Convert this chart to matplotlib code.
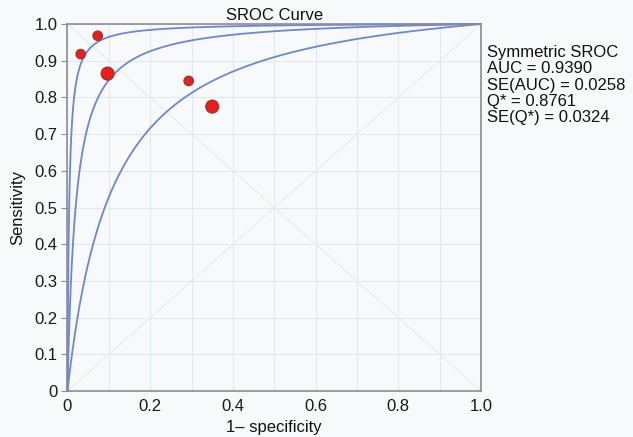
import numpy as np
import matplotlib
matplotlib.use("Agg")
import matplotlib.pyplot as plt

plt.rcParams['font.family'] = ['Liberation Sans', 'DejaVu Sans']

# Study points (1 - specificity, sensitivity), marker weight
study_fpr = [0.032, 0.073, 0.097, 0.293, 0.350]
study_tpr = [0.918, 0.968, 0.865, 0.845, 0.775]
study_weight = ['small', 'small', 'large', 'small', 'large']

# Symmetric SROC curves: diagnostic odds ratios (lower band, estimate, upper band)
curve_dor = [10.1, 50.0, 247.0]

stats_lines = ["Symmetric SROC", "AUC = 0.9390", "SE(AUC) = 0.0258",
               "Q* = 0.8761", "SE(Q*) = 0.0324"]

x_ticks = [0.0, 0.1, 0.2, 0.3, 0.4, 0.5, 0.6, 0.7, 0.8, 0.9, 1.0]
x_ticklabels = ["0", "", "0.2", "", "0.4", "", "0.6", "", "0.8", "", "1.0"]
y_ticks = [0.0, 0.1, 0.2, 0.3, 0.4, 0.5, 0.6, 0.7, 0.8, 0.9, 1.0]
y_ticklabels = ["0", "0.1", "0.2", "0.3", "0.4", "0.5", "0.6", "0.7", "0.8", "0.9", "1.0"]

bg = '#f8f9fb'
fig = plt.figure(figsize=(6.33, 4.37), dpi=100, facecolor=bg)
ax = fig.add_axes([0.1066, 0.105, 0.6534, 0.840], facecolor=bg)

ax.set_xlim(0, 1)
ax.set_ylim(0, 1)
ax.set_xticks(x_ticks)
ax.set_xticklabels(x_ticklabels)
ax.set_yticks(y_ticks)
ax.set_yticklabels(y_ticklabels)
ax.grid(True, color='#e0e8f0', linewidth=0.8)
ax.set_axisbelow(True)
for s in ax.spines.values():
    s.set_color('#8a8d92')
    s.set_linewidth(1.2)
ax.tick_params(axis='both', colors='#8a8d92', labelcolor='#1a1a1a', labelsize=12,
               length=4, width=0.8)
ax.tick_params(axis='x', length=0, pad=6)
ax.tick_params(axis='y', pad=3)

# reference diagonals
ax.plot([0, 1], [0, 1], color='#e2ebf3', linewidth=0.7, zorder=1)
ax.plot([0, 1], [1, 0], color='#e2ebf3', linewidth=0.7, zorder=1)

fpr = np.linspace(0, 1, 2001)
for d in curve_dor:
    tpr = d * fpr / (1 - fpr + d * fpr)
    ax.plot(fpr, tpr, color='#6f86d6', linewidth=1.3, zorder=2, clip_on=False)

sizes = {'small': 45, 'large': 85}
ax.scatter(study_fpr, study_tpr, s=[sizes[w] for w in study_weight],
           color='#ee1c1c', edgecolors='#9a3a2a', linewidths=1.0, zorder=4)

ax.set_title("SROC Curve", fontsize=12, pad=3, color='#111111')
ax.set_xlabel("1\u2013 specificity", fontsize=12, labelpad=4, color='#111111')
ax.set_ylabel("Sensitivity", fontsize=12, labelpad=7, color='#111111')

fig.text(0.769, 0.897, "\n".join(stats_lines), fontsize=12, va='top', ha='left',
         color='#111111', linespacing=1.11)

fig.savefig("out.png", dpi=100, facecolor=bg)
